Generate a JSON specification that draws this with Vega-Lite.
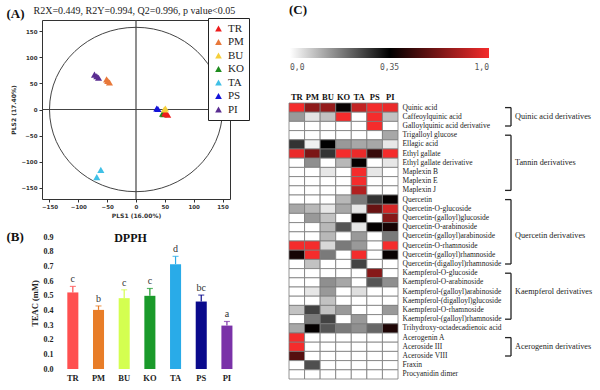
{
  "$schema": "https://vega.github.io/schema/vega-lite/v6.json",
  "autosize": {"type": "none"},
  "padding": {"left": 42, "top": 20, "right": 558, "bottom": 370},
  "background": "white",
  "config": {"view": {"stroke": null}, "axis": {"grid": false, "labelFlush": false, "labelOverlap": false}, "font": "Liberation Serif"},
  "columns": 2,
  "align": "each",
  "bounds": "flush",
  "spacing": {"row": 38, "column": 49},
  "resolve": {"scale": {"color": "independent", "x": "independent", "y": "independent"}, "legend": {"color": "independent"}},
  "concat": [
    {
      "width": 188, "height": 179,
      "view": {"stroke": "#333", "strokeWidth": 1},
      "resolve": {"axis": {"x": "independent", "y": "independent"}},
      "layer": [
        {
          "data": {"values": [{"x": 0, "y": 0}]},
          "mark": {"type": "point", "shape": "M -1 0 A 1 0.95 0 1 1 1 0 A 1 0.95 0 1 1 -1 0 Z", "size": 29929, "filled": false, "stroke": "#444", "strokeWidth": 1, "opacity": 1},
          "encoding": {
            "x": {"field": "x", "type": "quantitative", "scale": {"domain": [-163, 163], "nice": false, "zero": false},
              "axis": {"orient": "top", "labels": false, "ticks": false, "domain": false, "title": "R2X=0.449, R2Y=0.994, Q2=0.996, p value<0.05", "titleX": -9, "titleY": -10, "titleAlign": "left", "titleBaseline": "middle", "titleFontSize": 10, "titleFontWeight": "normal", "titleFont": "Liberation Serif", "titleColor": "#222"}},
            "y": {"field": "y", "type": "quantitative", "scale": {"domain": [-172, 172], "nice": false, "zero": false}, "axis": null}
          }
        },
        {
          "data": {"values": [{"x": 0}]},
          "mark": {"type": "rule", "color": "#444", "strokeWidth": 1.2},
          "encoding": {
            "x": {"field": "x", "type": "quantitative",
              "axis": {"orient": "top", "labels": false, "ticks": false, "domain": false, "title": "(A)", "titleX": -36, "titleY": -7, "titleAlign": "left", "titleBaseline": "middle", "titleFontSize": 13, "titleFontWeight": "bold", "titleFont": "Liberation Serif", "titleColor": "#111"}}
          }
        },
        {
          "data": {"values": [{"y": 0}]},
          "mark": {"type": "rule", "color": "#444", "strokeWidth": 1.2},
          "encoding": {
            "y": {"field": "y", "type": "quantitative", "axis": null}
          }
        },
        {
          "data": {"values": [
            {"s": "KO", "x": 46, "y": -8}, {"s": "KO", "x": 48, "y": -9},
            {"s": "TR", "x": 52, "y": -8}, {"s": "TR", "x": 55, "y": -10}, {"s": "TR", "x": 50, "y": -7},
            {"s": "BU", "x": 51, "y": 2}, {"s": "BU", "x": 49, "y": 0},
            {"s": "PS", "x": 36, "y": 2}, {"s": "PS", "x": 38, "y": 1},
            {"s": "PM", "x": -51, "y": 58}, {"s": "PM", "x": -46, "y": 52}, {"s": "PM", "x": -49, "y": 55},
            {"s": "PI", "x": -72, "y": 67}, {"s": "PI", "x": -65, "y": 61}, {"s": "PI", "x": -68, "y": 64},
            {"s": "TA", "x": -61, "y": -116}, {"s": "TA", "x": -68, "y": -130}
          ]},
          "mark": {"type": "point", "shape": "triangle-up", "filled": true, "size": 50, "opacity": 1},
          "encoding": {
            "x": {"field": "x", "type": "quantitative",
              "axis": {"orient": "bottom", "values": [-150, -100, -50, 0, 50, 100, 150], "labelFontSize": 5.5, "labelFont": "DejaVu Sans", "labelFontWeight": "bold", "labelColor": "#333", "tickSize": 3, "tickColor": "#333", "domain": false, "labelPadding": 2, "title": "PLS1 (16.00%)", "titleFontSize": 6, "titleFont": "DejaVu Sans", "titleFontWeight": "bold", "titleColor": "#333", "titlePadding": 3}},
            "y": {"field": "y", "type": "quantitative", "title": "PLS2 (17.40%)",
              "axis": {"values": [-150, -100, -50, 0, 50, 100, 150], "labelOverlap": false, "labelFontSize": 5.5, "labelFont": "DejaVu Sans", "labelFontWeight": "bold", "labelColor": "#333", "tickSize": 3, "tickColor": "#333", "domain": false, "labelPadding": 2, "titleFontSize": 6, "titleFont": "DejaVu Sans", "titleFontWeight": "bold", "titleColor": "#333", "titlePadding": 4}},
            "color": {"field": "s", "type": "nominal",
              "scale": {"domain": ["TR", "PM", "BU", "KO", "TA", "PS", "PI"], "range": ["#ee1c1c", "#e8783a", "#f5cf3a", "#1e8c1e", "#40c0e6", "#1414d8", "#5a2d91"]},
              "legend": {"orient": "none", "legendX": 166, "legendY": -2, "title": null, "symbolType": "triangle-up", "symbolSize": 45, "symbolStrokeWidth": 0, "labelFont": "Liberation Serif", "labelFontSize": 11, "labelColor": "#222", "strokeColor": "#222", "fillColor": "#ffffff", "padding": 5, "rowPadding": 1.5, "labelOffset": 4}}
          }
        }
      ]
    },
    {
      "width": 306, "height": 179,
      "title": {"text": "(C)", "anchor": "start", "frame": "group", "fontSize": 13, "font": "Liberation Serif", "fontWeight": "bold", "offset": 3, "color": "#111"},
      "resolve": {"scale": {"x": "independent"}},
      "layer": [
        {
          "data": {"values": [
            {"c":"Quinic acid","s":"TR","v":1},{"c":"Quinic acid","s":"PM","v":0.7},{"c":"Quinic acid","s":"BU","v":0.72},{"c":"Quinic acid","s":"KO","v":0.37},{"c":"Quinic acid","s":"TA","v":0.85},{"c":"Quinic acid","s":"PS","v":1},{"c":"Quinic acid","s":"PI","v":0.97},
            {"c":"Caffeoylquinic acid","s":"TR","v":0.087},{"c":"Caffeoylquinic acid","s":"PM","v":0.012},{"c":"Caffeoylquinic acid","s":"BU","v":0.04},{"c":"Caffeoylquinic acid","s":"KO","v":1},{"c":"Caffeoylquinic acid","s":"TA","v":0},{"c":"Caffeoylquinic acid","s":"PS","v":1},{"c":"Caffeoylquinic acid","s":"PI","v":0.04},
            {"c":"Galloylquinic acid derivative","s":"TR","v":0},{"c":"Galloylquinic acid derivative","s":"PM","v":0},{"c":"Galloylquinic acid derivative","s":"BU","v":0},{"c":"Galloylquinic acid derivative","s":"KO","v":0},{"c":"Galloylquinic acid derivative","s":"TA","v":0},{"c":"Galloylquinic acid derivative","s":"PS","v":1},{"c":"Galloylquinic acid derivative","s":"PI","v":0},
            {"c":"Trigalloyl glucose","s":"TR","v":0},{"c":"Trigalloyl glucose","s":"PM","v":0},{"c":"Trigalloyl glucose","s":"BU","v":0},{"c":"Trigalloyl glucose","s":"KO","v":0},{"c":"Trigalloyl glucose","s":"TA","v":0},{"c":"Trigalloyl glucose","s":"PS","v":0},{"c":"Trigalloyl glucose","s":"PI","v":0.07},
            {"c":"Ellagic acid","s":"TR","v":0.25},{"c":"Ellagic acid","s":"PM","v":0.005},{"c":"Ellagic acid","s":"BU","v":0.35},{"c":"Ellagic acid","s":"KO","v":0.087},{"c":"Ellagic acid","s":"TA","v":0.07},{"c":"Ellagic acid","s":"PS","v":0.07},{"c":"Ellagic acid","s":"PI","v":0.01},
            {"c":"Ethyl gallate","s":"TR","v":0.97},{"c":"Ethyl gallate","s":"PM","v":0.65},{"c":"Ethyl gallate","s":"BU","v":0.25},{"c":"Ethyl gallate","s":"KO","v":1},{"c":"Ethyl gallate","s":"TA","v":0.97},{"c":"Ethyl gallate","s":"PS","v":0.48},{"c":"Ethyl gallate","s":"PI","v":1},
            {"c":"Ethyl gallate derivative","s":"TR","v":0},{"c":"Ethyl gallate derivative","s":"PM","v":0.1},{"c":"Ethyl gallate derivative","s":"BU","v":0},{"c":"Ethyl gallate derivative","s":"KO","v":0.05},{"c":"Ethyl gallate derivative","s":"TA","v":0.36},{"c":"Ethyl gallate derivative","s":"PS","v":0},{"c":"Ethyl gallate derivative","s":"PI","v":0.01},
            {"c":"Maplexin B","s":"TR","v":0},{"c":"Maplexin B","s":"PM","v":0},{"c":"Maplexin B","s":"BU","v":0.01},{"c":"Maplexin B","s":"KO","v":0},{"c":"Maplexin B","s":"TA","v":1},{"c":"Maplexin B","s":"PS","v":0.01},{"c":"Maplexin B","s":"PI","v":0},
            {"c":"Maplexin E","s":"TR","v":0},{"c":"Maplexin E","s":"PM","v":0},{"c":"Maplexin E","s":"BU","v":0},{"c":"Maplexin E","s":"KO","v":0},{"c":"Maplexin E","s":"TA","v":1},{"c":"Maplexin E","s":"PS","v":0},{"c":"Maplexin E","s":"PI","v":0},
            {"c":"Maplexin J","s":"TR","v":0},{"c":"Maplexin J","s":"PM","v":0},{"c":"Maplexin J","s":"BU","v":0},{"c":"Maplexin J","s":"KO","v":0},{"c":"Maplexin J","s":"TA","v":0.8},{"c":"Maplexin J","s":"PS","v":0},{"c":"Maplexin J","s":"PI","v":0},
            {"c":"Quercetin","s":"TR","v":0},{"c":"Quercetin","s":"PM","v":0},{"c":"Quercetin","s":"BU","v":0},{"c":"Quercetin","s":"KO","v":0.05},{"c":"Quercetin","s":"TA","v":0.13},{"c":"Quercetin","s":"PS","v":0.25},{"c":"Quercetin","s":"PI","v":0.36},
            {"c":"Quercetin-O-glucoside","s":"TR","v":0.07},{"c":"Quercetin-O-glucoside","s":"PM","v":0.05},{"c":"Quercetin-O-glucoside","s":"BU","v":0.01},{"c":"Quercetin-O-glucoside","s":"KO","v":0.07},{"c":"Quercetin-O-glucoside","s":"TA","v":0.01},{"c":"Quercetin-O-glucoside","s":"PS","v":0.6},{"c":"Quercetin-O-glucoside","s":"PI","v":0.9},
            {"c":"Quercetin-(galloyl)glucoside","s":"TR","v":0},{"c":"Quercetin-(galloyl)glucoside","s":"PM","v":0.087},{"c":"Quercetin-(galloyl)glucoside","s":"BU","v":0.04},{"c":"Quercetin-(galloyl)glucoside","s":"KO","v":0},{"c":"Quercetin-(galloyl)glucoside","s":"TA","v":0.36},{"c":"Quercetin-(galloyl)glucoside","s":"PS","v":0},{"c":"Quercetin-(galloyl)glucoside","s":"PI","v":0.68},
            {"c":"Quercetin-O-arabinoside","s":"TR","v":0},{"c":"Quercetin-O-arabinoside","s":"PM","v":0},{"c":"Quercetin-O-arabinoside","s":"BU","v":0.05},{"c":"Quercetin-O-arabinoside","s":"KO","v":0.19},{"c":"Quercetin-O-arabinoside","s":"TA","v":0.01},{"c":"Quercetin-O-arabinoside","s":"PS","v":0.36},{"c":"Quercetin-O-arabinoside","s":"PI","v":0.4},
            {"c":"Quercetin-(galloyl)arabinoside","s":"TR","v":0},{"c":"Quercetin-(galloyl)arabinoside","s":"PM","v":0},{"c":"Quercetin-(galloyl)arabinoside","s":"BU","v":0.05},{"c":"Quercetin-(galloyl)arabinoside","s":"KO","v":0},{"c":"Quercetin-(galloyl)arabinoside","s":"TA","v":0.087},{"c":"Quercetin-(galloyl)arabinoside","s":"PS","v":0},{"c":"Quercetin-(galloyl)arabinoside","s":"PI","v":0.13},
            {"c":"Quercetin-O-rhamnoside","s":"TR","v":1},{"c":"Quercetin-O-rhamnoside","s":"PM","v":1},{"c":"Quercetin-O-rhamnoside","s":"BU","v":0.02},{"c":"Quercetin-O-rhamnoside","s":"KO","v":0.13},{"c":"Quercetin-O-rhamnoside","s":"TA","v":0.087},{"c":"Quercetin-O-rhamnoside","s":"PS","v":0},{"c":"Quercetin-O-rhamnoside","s":"PI","v":1},
            {"c":"Quercetin-(galloyl)rhamnoside","s":"TR","v":0.4},{"c":"Quercetin-(galloyl)rhamnoside","s":"PM","v":1},{"c":"Quercetin-(galloyl)rhamnoside","s":"BU","v":0.13},{"c":"Quercetin-(galloyl)rhamnoside","s":"KO","v":0},{"c":"Quercetin-(galloyl)rhamnoside","s":"TA","v":1},{"c":"Quercetin-(galloyl)rhamnoside","s":"PS","v":0},{"c":"Quercetin-(galloyl)rhamnoside","s":"PI","v":0.37},
            {"c":"Quercetin-(digalloyl)rhamnoside","s":"TR","v":0},{"c":"Quercetin-(digalloyl)rhamnoside","s":"PM","v":0.04},{"c":"Quercetin-(digalloyl)rhamnoside","s":"BU","v":0},{"c":"Quercetin-(digalloyl)rhamnoside","s":"KO","v":0},{"c":"Quercetin-(digalloyl)rhamnoside","s":"TA","v":0.22},{"c":"Quercetin-(digalloyl)rhamnoside","s":"PS","v":0},{"c":"Quercetin-(digalloyl)rhamnoside","s":"PI","v":0},
            {"c":"Kaempferol-O-glucoside","s":"TR","v":0},{"c":"Kaempferol-O-glucoside","s":"PM","v":0},{"c":"Kaempferol-O-glucoside","s":"BU","v":0},{"c":"Kaempferol-O-glucoside","s":"KO","v":0},{"c":"Kaempferol-O-glucoside","s":"TA","v":0},{"c":"Kaempferol-O-glucoside","s":"PS","v":0.68},{"c":"Kaempferol-O-glucoside","s":"PI","v":0},
            {"c":"Kaempferol-O-arabinoside","s":"TR","v":0},{"c":"Kaempferol-O-arabinoside","s":"PM","v":0},{"c":"Kaempferol-O-arabinoside","s":"BU","v":0.1},{"c":"Kaempferol-O-arabinoside","s":"KO","v":0.07},{"c":"Kaempferol-O-arabinoside","s":"TA","v":0},{"c":"Kaempferol-O-arabinoside","s":"PS","v":0.19},{"c":"Kaempferol-O-arabinoside","s":"PI","v":0.1},
            {"c":"Kaempferol-(galloyl)arabinoside","s":"TR","v":0},{"c":"Kaempferol-(galloyl)arabinoside","s":"PM","v":0.01},{"c":"Kaempferol-(galloyl)arabinoside","s":"BU","v":0.087},{"c":"Kaempferol-(galloyl)arabinoside","s":"KO","v":0},{"c":"Kaempferol-(galloyl)arabinoside","s":"TA","v":0.015},{"c":"Kaempferol-(galloyl)arabinoside","s":"PS","v":0},{"c":"Kaempferol-(galloyl)arabinoside","s":"PI","v":0},
            {"c":"Kaempferol-(digalloyl)glucoside","s":"TR","v":0},{"c":"Kaempferol-(digalloyl)glucoside","s":"PM","v":0},{"c":"Kaempferol-(digalloyl)glucoside","s":"BU","v":0.04},{"c":"Kaempferol-(digalloyl)glucoside","s":"KO","v":0},{"c":"Kaempferol-(digalloyl)glucoside","s":"TA","v":0},{"c":"Kaempferol-(digalloyl)glucoside","s":"PS","v":0},{"c":"Kaempferol-(digalloyl)glucoside","s":"PI","v":0},
            {"c":"Kaempferol-O-rhamnoside","s":"TR","v":0.04},{"c":"Kaempferol-O-rhamnoside","s":"PM","v":0.22},{"c":"Kaempferol-O-rhamnoside","s":"BU","v":0.04},{"c":"Kaempferol-O-rhamnoside","s":"KO","v":0.087},{"c":"Kaempferol-O-rhamnoside","s":"TA","v":0},{"c":"Kaempferol-O-rhamnoside","s":"PS","v":0},{"c":"Kaempferol-O-rhamnoside","s":"PI","v":0.087},
            {"c":"Kaempferol-(galloyl)rhamnoside","s":"TR","v":0},{"c":"Kaempferol-(galloyl)rhamnoside","s":"PM","v":0.13},{"c":"Kaempferol-(galloyl)rhamnoside","s":"BU","v":0.22},{"c":"Kaempferol-(galloyl)rhamnoside","s":"KO","v":0},{"c":"Kaempferol-(galloyl)rhamnoside","s":"TA","v":0.087},{"c":"Kaempferol-(galloyl)rhamnoside","s":"PS","v":0},{"c":"Kaempferol-(galloyl)rhamnoside","s":"PI","v":0},
            {"c":"Trihydroxy-octadecadienoic acid","s":"TR","v":0.07},{"c":"Trihydroxy-octadecadienoic acid","s":"PM","v":0.36},{"c":"Trihydroxy-octadecadienoic acid","s":"BU","v":0.19},{"c":"Trihydroxy-octadecadienoic acid","s":"KO","v":0.13},{"c":"Trihydroxy-octadecadienoic acid","s":"TA","v":0.1},{"c":"Trihydroxy-octadecadienoic acid","s":"PS","v":0.16},{"c":"Trihydroxy-octadecadienoic acid","s":"PI","v":0.42},
            {"c":"Acerogenin A","s":"TR","v":1},{"c":"Acerogenin A","s":"PM","v":0},{"c":"Acerogenin A","s":"BU","v":0},{"c":"Acerogenin A","s":"KO","v":0},{"c":"Acerogenin A","s":"TA","v":0},{"c":"Acerogenin A","s":"PS","v":0},{"c":"Acerogenin A","s":"PI","v":0},
            {"c":"Aceroside III","s":"TR","v":1},{"c":"Aceroside III","s":"PM","v":0},{"c":"Aceroside III","s":"BU","v":0},{"c":"Aceroside III","s":"KO","v":0},{"c":"Aceroside III","s":"TA","v":0},{"c":"Aceroside III","s":"PS","v":0},{"c":"Aceroside III","s":"PI","v":0},
            {"c":"Aceroside VIII","s":"TR","v":0.55},{"c":"Aceroside VIII","s":"PM","v":0},{"c":"Aceroside VIII","s":"BU","v":0},{"c":"Aceroside VIII","s":"KO","v":0},{"c":"Aceroside VIII","s":"TA","v":0},{"c":"Aceroside VIII","s":"PS","v":0},{"c":"Aceroside VIII","s":"PI","v":0},
            {"c":"Fraxin","s":"TR","v":0},{"c":"Fraxin","s":"PM","v":0.2},{"c":"Fraxin","s":"BU","v":0},{"c":"Fraxin","s":"KO","v":0},{"c":"Fraxin","s":"TA","v":0},{"c":"Fraxin","s":"PS","v":0},{"c":"Fraxin","s":"PI","v":0},
            {"c":"Procyanidin dimer","s":"TR","v":0},{"c":"Procyanidin dimer","s":"PM","v":0},{"c":"Procyanidin dimer","s":"BU","v":0},{"c":"Procyanidin dimer","s":"KO","v":0},{"c":"Procyanidin dimer","s":"TA","v":0},{"c":"Procyanidin dimer","s":"PS","v":0},{"c":"Procyanidin dimer","s":"PI","v":0}
          ]},
          "mark": {"type": "rect", "stroke": "#7a7a7a", "strokeWidth": 0.8},
          "encoding": {
            "x": {"field": "s", "type": "nominal", "sort": null,
              "scale": {"range": [0, 109], "paddingInner": 0, "paddingOuter": 0},
              "axis": {"orient": "top", "offset": -83, "ticks": false, "domain": false, "labelAngle": 0, "labelPadding": 2, "labelFont": "Liberation Serif", "labelFontWeight": "bold", "labelFontSize": 8.5, "labelColor": "#111", "title": null}},
            "y": {"field": "c", "type": "nominal", "sort": null,
              "scale": {"domain": ["Quinic acid","Caffeoylquinic acid","Galloylquinic acid derivative","Trigalloyl glucose","Ellagic acid","Ethyl gallate","Ethyl gallate derivative","Maplexin B","Maplexin E","Maplexin J","Quercetin","Quercetin-O-glucoside","Quercetin-(galloyl)glucoside","Quercetin-O-arabinoside","Quercetin-(galloyl)arabinoside","Quercetin-O-rhamnoside","Quercetin-(galloyl)rhamnoside","Quercetin-(digalloyl)rhamnoside","Kaempferol-O-glucoside","Kaempferol-O-arabinoside","Kaempferol-(galloyl)arabinoside","Kaempferol-(digalloyl)glucoside","Kaempferol-O-rhamnoside","Kaempferol-(galloyl)rhamnoside","Trihydroxy-octadecadienoic acid","Acerogenin A","Aceroside III","Aceroside VIII","Fraxin","Procyanidin dimer"], "range": [83, 359], "paddingInner": 0, "paddingOuter": 0},
              "axis": {"orient": "right", "offset": -197, "ticks": false, "domain": false, "labelPadding": 4, "labelFont": "Liberation Serif", "labelFontSize": 7.5, "labelColor": "#222", "labelLimit": 0, "title": null}},
            "color": {"field": "v", "type": "quantitative",
              "scale": {"type": "pow", "exponent": 0.66, "domain": [0, 0.35, 1], "range": ["#ffffff", "#000000", "#f42c2c"], "interpolate": "rgb"},
              "legend": {"orient": "none", "legendX": 1, "legendY": 28, "direction": "horizontal", "gradientLength": 199, "gradientThickness": 10, "gradientStrokeWidth": 0, "title": null, "values": [0, 0.35, 1], "labelExpr": "replace(format(datum.value, datum.value == 0.35 ? '.2f' : '.1f'), '.', ',')", "labelFont": "DejaVu Sans Mono", "labelFontSize": 8, "labelColor": "#555", "labelOffset": 6}}
          }
        },
        {
          "data": {"values": [
            {"g": "Quinic acid derivatives", "first": "Quinic acid", "last": "Galloylquinic acid derivative", "mid": "Caffeoylquinic acid"},
            {"g": "Tannin derivatives", "first": "Trigalloyl glucose", "last": "Maplexin J", "mid": "Ethyl gallate derivative"},
            {"g": "Quercetin derivatives", "first": "Quercetin", "last": "Quercetin-(digalloyl)rhamnoside", "mid": "Quercetin-(galloyl)arabinoside"},
            {"g": "Kaempferol derivatives", "first": "Kaempferol-O-glucoside", "last": "Kaempferol-(galloyl)rhamnoside", "mid": "Kaempferol-(galloyl)arabinoside"},
            {"g": "Acerogenin  derivatives", "first": "Acerogenin A", "last": "Aceroside VIII", "mid": "Aceroside III"}
          ]},
          "layer": [
            {
              "mark": {"type": "rule", "color": "#222", "strokeWidth": 1.3},
              "encoding": {
                "x": {"datum": 0.7255, "type": "quantitative", "scale": {"domain": [0, 1], "nice": false, "zero": false}, "axis": null},
                "y": {"field": "first", "type": "nominal", "title": null},
                "y2": {"field": "last"}
              }
            },
            {
              "mark": {"type": "rule", "color": "#222", "strokeWidth": 1.3},
              "encoding": {
                "x": {"datum": 0.706, "type": "quantitative", "axis": null},
                "x2": {"datum": 0.7255},
                "y": {"field": "first", "type": "nominal", "title": null}
              }
            },
            {
              "mark": {"type": "rule", "color": "#222", "strokeWidth": 1.3},
              "encoding": {
                "x": {"datum": 0.706, "type": "quantitative", "axis": null},
                "x2": {"datum": 0.7255},
                "y": {"field": "last", "type": "nominal", "title": null}
              }
            },
            {
              "mark": {"type": "text", "align": "left", "baseline": "middle", "fontSize": 8.2, "font": "Liberation Serif", "color": "#222"},
              "encoding": {
                "x": {"datum": 0.7386, "type": "quantitative", "axis": null},
                "y": {"field": "mid", "type": "nominal", "title": null},
                "text": {"field": "g"}
              }
            }
          ]
        }
      ]
    },
    {
      "width": 198, "height": 132,
      "data": {"values": [
        {"s": "TR", "v": 0.522, "hi": 0.563, "lab": "c"},
        {"s": "PM", "v": 0.403, "hi": 0.43, "lab": "b"},
        {"s": "BU", "v": 0.483, "hi": 0.54, "lab": "c"},
        {"s": "KO", "v": 0.499, "hi": 0.549, "lab": "c"},
        {"s": "TA", "v": 0.715, "hi": 0.768, "lab": "d"},
        {"s": "PS", "v": 0.46, "hi": 0.504, "lab": "bc"},
        {"s": "PI", "v": 0.296, "hi": 0.324, "lab": "a"}
      ]},
      "resolve": {"axis": {"x": "independent", "y": "independent"}},
      "layer": [
        {
          "mark": {"type": "bar"},
          "encoding": {
            "x": {"field": "s", "type": "nominal", "sort": null, "scale": {"paddingInner": 0.57, "paddingOuter": 0.64, "align": 0.77},
              "axis": {"orient": "bottom", "labelAngle": 0, "ticks": false, "domain": false, "labelFont": "Liberation Serif", "labelFontWeight": "bold", "labelFontSize": 8.5, "labelColor": "#222", "labelPadding": 4, "title": null}},
            "y": {"field": "v", "type": "quantitative", "title": "TEAC (mM)", "scale": {"domain": [0, 0.9], "nice": false},
              "axis": {"values": [0, 0.1, 0.2, 0.3, 0.4, 0.5, 0.6, 0.7, 0.8, 0.9], "format": ".1f", "offset": -14, "domain": false, "ticks": false, "labelOverlap": false, "labelFont": "Liberation Serif", "labelFontWeight": "bold", "labelFontSize": 8, "labelColor": "#222", "labelPadding": 3, "titleFont": "Liberation Serif", "titleFontWeight": "bold", "titleFontSize": 8.5, "titleColor": "#222", "titlePadding": 4}},
            "color": {"field": "s", "type": "nominal", "sort": null,
              "scale": {"domain": ["TR", "PM", "BU", "KO", "TA", "PS", "PI"], "range": ["#ff5050", "#e87d28", "#d4ff50", "#1a9a2a", "#29abe8", "#0a0a8c", "#7a32a8"]},
              "legend": null}
          }
        },
        {
          "mark": {"type": "rule", "strokeWidth": 1.2},
          "encoding": {
            "x": {"field": "s", "type": "nominal", "sort": null, "axis": null},
            "y": {"field": "v", "type": "quantitative", "axis": null},
            "y2": {"field": "hi"},
            "color": {"field": "s", "type": "nominal", "sort": null, "legend": null}
          }
        },
        {
          "mark": {"type": "tick", "size": 6, "thickness": 1.2},
          "encoding": {
            "x": {"field": "s", "type": "nominal", "sort": null,
              "axis": {"orient": "top", "labels": false, "ticks": false, "domain": false, "title": "(B)", "titleX": -36, "titleY": -1, "titleAlign": "left", "titleBaseline": "middle", "titleFontSize": 13, "titleFontWeight": "bold", "titleFont": "Liberation Serif", "titleColor": "#111"}},
            "y": {"field": "hi", "type": "quantitative", "axis": null},
            "color": {"field": "s", "type": "nominal", "sort": null, "legend": null}
          }
        },
        {
          "mark": {"type": "text", "baseline": "bottom", "dy": -2, "fontSize": 10, "font": "Liberation Serif", "color": "#333"},
          "encoding": {
            "x": {"field": "s", "type": "nominal", "sort": null,
              "axis": {"orient": "top", "labels": false, "ticks": false, "domain": false, "title": "DPPH", "titleX": 88, "titleY": 0, "titleAlign": "center", "titleBaseline": "middle", "titleFontSize": 12, "titleFontWeight": "bold", "titleFont": "Liberation Serif", "titleColor": "#111"}},
            "y": {"field": "hi", "type": "quantitative", "axis": null},
            "text": {"field": "lab"}
          }
        }
      ]
    }
  ]
}
